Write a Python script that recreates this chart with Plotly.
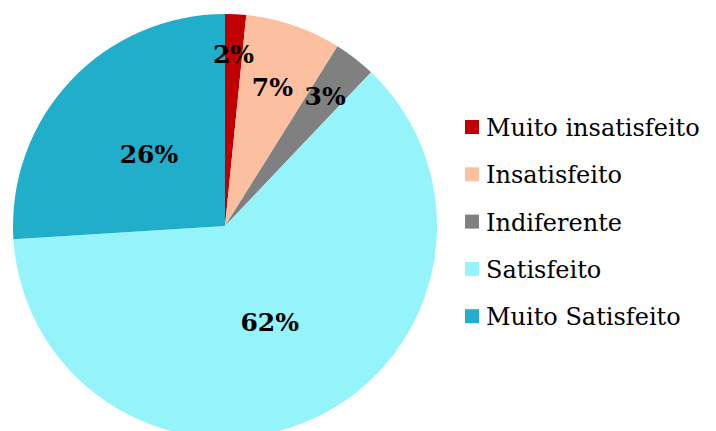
import plotly.graph_objects as go

# Satisfaction survey shares (%), clockwise from 12 o'clock
categories = ["Muito insatisfeito", "Insatisfeito", "Indiferente", "Satisfeito", "Muito Satisfeito"]
shares = [1.6, 7.3, 3.2, 61.9, 26.0]
colors = ["#C00000", "#FCBFA0", "#808080", "#94F4FA", "#21AECA"]

# which slices carry their percentage on the outer ring vs. the inner label ring
outer_label = [False, False, False, True, False]

W, H = 716, 445
M_T, M_B = 14, 7
PLOT_H = H - M_T - M_B
CX, CY, R = 225, 226, 212      # pie centre and radius in pixels
R_LABEL = 180                  # radius of the inner label ring

PCT = "%{percent:.0%}"
label_font = dict(family="DejaVu Serif", size=25, color="black", weight="bold")


def px_x(x):
    return x / W


def px_y(y):
    return 1 - (y - M_T) / PLOT_H


fig = go.Figure()

# the pie itself
fig.add_trace(go.Pie(
    labels=categories,
    values=shares,
    sort=False,
    direction="clockwise",
    rotation=0,
    marker=dict(colors=colors, line=dict(width=0)),
    texttemplate=[PCT if o else "" for o in outer_label],
    textposition="inside",
    insidetextorientation="horizontal",
    textfont=label_font,
    domain=dict(x=[px_x(CX - R), px_x(CX + R)], y=[0, 1]),
    showlegend=False,
    hoverinfo="label+percent",
))

# transparent inner ring that positions the remaining percentage labels
fig.add_trace(go.Pie(
    labels=categories,
    values=shares,
    sort=False,
    direction="clockwise",
    rotation=0,
    marker=dict(colors=["rgba(0,0,0,0)"] * len(categories), line=dict(width=0)),
    texttemplate=["" if o else PCT for o in outer_label],
    textposition="inside",
    insidetextorientation="horizontal",
    textfont=label_font,
    domain=dict(x=[px_x(CX - R_LABEL), px_x(CX + R_LABEL)],
                y=[px_y(CY + R_LABEL), px_y(CY - R_LABEL)]),
    showlegend=False,
    hoverinfo="skip",
))

# Legend on the right: colour square + label per category
shapes, annotations = [], []
for i, (name, col) in enumerate(zip(categories, colors)):
    cy = 127 + 47.3 * i
    shapes.append(dict(type="rect", xref="paper", yref="paper",
                       x0=px_x(465), x1=px_x(479), y0=px_y(cy + 7), y1=px_y(cy - 7),
                       fillcolor=col, line=dict(width=0)))
    annotations.append(dict(text=name, xref="paper", yref="paper",
                            x=px_x(484), y=px_y(cy + 1), xanchor="left", yanchor="middle",
                            showarrow=False,
                            font=dict(family="DejaVu Serif", size=24, color="black")))

fig.update_layout(
    width=W, height=H,
    autosize=False,
    margin=dict(l=0, r=0, t=M_T, b=M_B, pad=0),
    paper_bgcolor="white",
    plot_bgcolor="white",
    shapes=shapes,
    annotations=annotations,
    uniformtext=dict(mode="show", minsize=25),
)

fig.write_html("out.html", post_script="document.body.style.overflow='hidden';document.body.style.margin='0';")
